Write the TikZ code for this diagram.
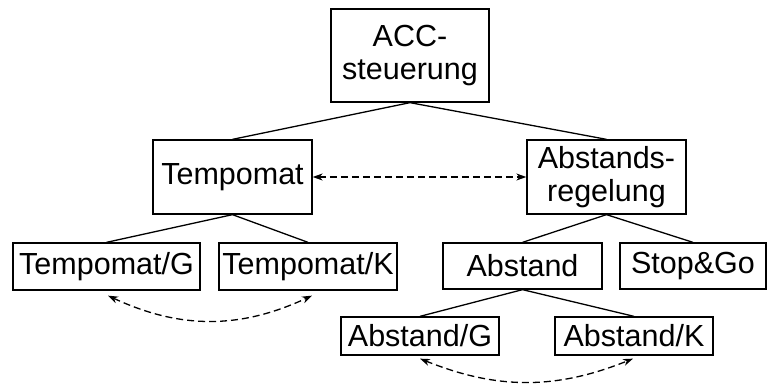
\documentclass[tikz,border=0pt]{standalone}
\usepackage{fontspec}
\setmainfont{Liberation Sans}
\usetikzlibrary{arrows.meta}
\begin{document}
\begin{tikzpicture}[x=1pt,y=1pt,
  box/.style={draw, line width=1.3pt, inner sep=0pt, align=center,
    font=\fontsize{30.5}{33}\selectfont},
  tree/.style={line width=1.3pt},
  link/.style={line width=1.3pt, dash pattern=on 7pt off 4pt,
    {Stealth[length=10pt,width=7pt]}-{Stealth[length=10pt,width=7pt]}}]
\useasboundingbox (0,0) rectangle (769,-385);
% hierarchy boxes
\node[box, minimum width=158, minimum height=93] (acc) at (410,-55.5) {ACC-\\steuerung};
\node[box, minimum width=159, minimum height=74] (tempo) at (232.5,-177) {Tempomat};
\node[box, minimum width=159, minimum height=74] (abst) at (606.5,-177) {Abstands-\\regelung};
\node[box, minimum width=187, minimum height=47] (tg) at (106.5,-266.5) {Tempomat/G};
\node[box, minimum width=178, minimum height=47] (tk) at (308,-266.5) {Tempomat/K};
\node[box, minimum width=159, minimum height=46] (ab) at (522.5,-266) {Abstand};
\node[box, minimum width=146, minimum height=46] (sg) at (693,-266) {Stop\&Go};
\node[box, minimum width=158, minimum height=38] (ag) at (420,-336) {Abstand/G};
\node[box, minimum width=158, minimum height=38] (ak) at (634,-336) {Abstand/K};
% tree edges
\draw[tree] (acc.south) -- (tempo.north);
\draw[tree] (acc.south) -- (abst.north);
\draw[tree] (tempo.south) -- (tg.north);
\draw[tree] (tempo.south) -- (tk.north);
\draw[tree] (abst.south) -- (ab.north);
\draw[tree] (abst.south) -- (sg.north);
\draw[tree] (ab.south) -- (ag.north);
\draw[tree] (ab.south) -- (ak.north);
% dashed relations
\draw[link] (tempo.east) -- (abst.west);
\draw[link] ([xshift=1.5pt,yshift=-5pt]tg.south) to[out=-25,in=-155] ([xshift=4pt,yshift=-5pt]tk.south);
\draw[link] ([yshift=-3pt]ag.south) to[out=-22,in=-158] ([xshift=-1pt,yshift=-3pt]ak.south);
\end{tikzpicture}
\end{document}
